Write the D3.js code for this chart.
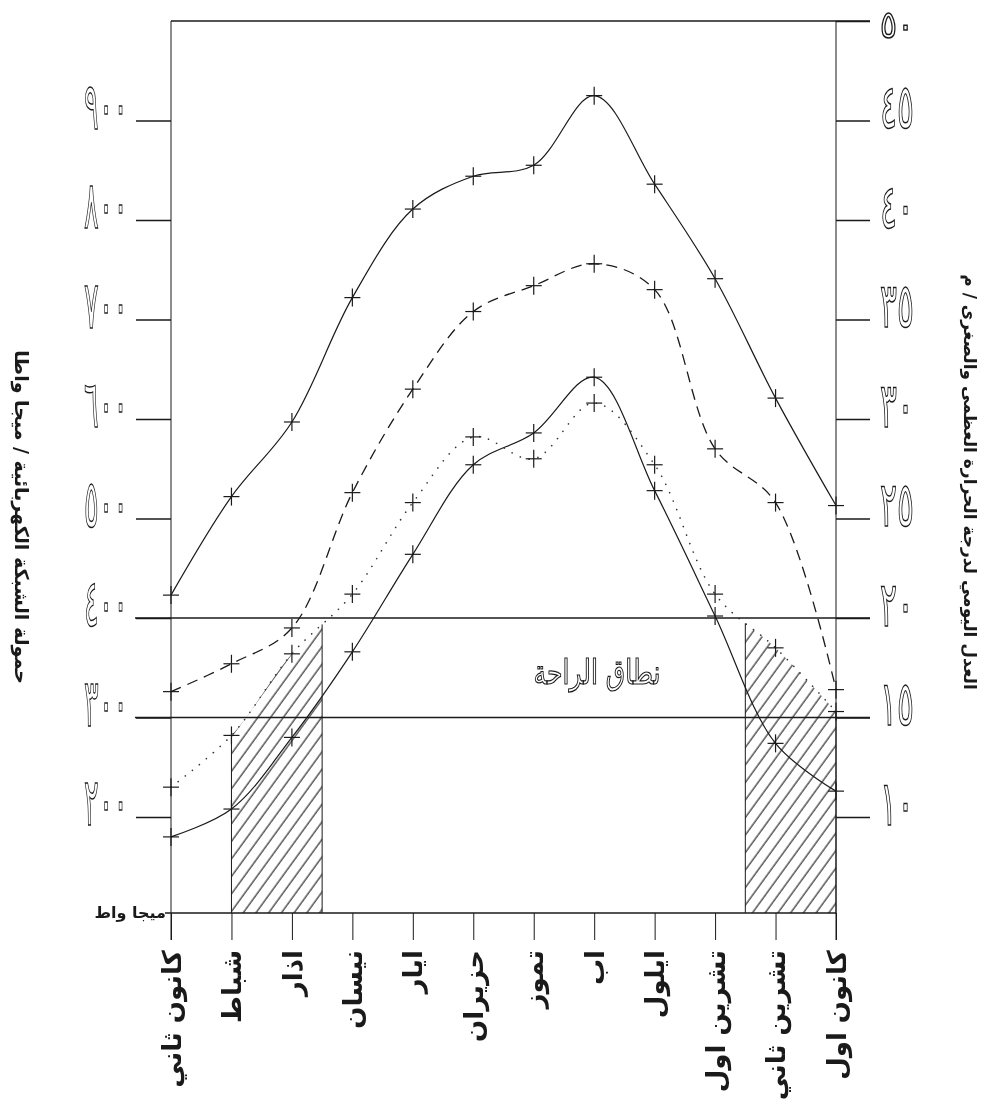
<!DOCTYPE html>
<html><head><meta charset="utf-8">
<script src="https://cdn.jsdelivr.net/npm/d3@7"></script>
<style>
html,body{margin:0;padding:0;background:#fff;}
svg{display:block;will-change:transform;}
text{font-family:"DejaVu Sans",sans-serif;}
</style></head>
<body>
<svg id="chart" width="995" height="1106"></svg>
<script>
// ---- data ----
const months = ["كانون ثاني","شباط","اذار","نيسان","ايار","حزيران","تموز","اب","ايلول","تشرين اول","تشرين ثاني","كانون اول"];
const loadMW   = [423, 522, 597, 722, 811, 844, 855, 925, 836, 741, 621, 513];     // top solid (left axis)
const tempDash = [16.3, 17.7, 19.5, 26.3, 31.5, 35.4, 36.7, 37.8, 36.5, 28.5, 25.8, 16.4];
const tempSolid= [9.0, 10.4, 14.0, 18.3, 23.2, 27.7, 29.3, 32.1, 26.4, 20.1, 13.7, 11.3];
const tempDot  = [11.5, 14.1, 18.2, 21.2, 25.8, 29.1, 28.0, 30.8, 27.7, 21.2, 18.5, 15.3];
const leftTicks  = [200, 300, 400, 500, 600, 700, 800, 900];
const rightTicks = [10, 15, 20, 25, 30, 35, 40, 45, 50];
const comfortBand = [15, 20];
const hatchRanges = [[1, 2.5], [9.5, 11]];
const comfortLabel = "نطاق الراحة";
const leftTitle = "حمولة الشبكة الكهربائية / ميجا واطا";
const rightTitle = "العدل اليومي لدرجة الحرارة العظمى والصغرى / م";
const unitLabel = "ميجا واط";

const toArabic = n => String(n).replace(/[0-9]/g, d => "٠١٢٣٤٥٦٧٨٩"[+d]);

// ---- layout ----
const svg = d3.select("#chart");
const X0 = 171, X1 = 836, YTOP = 21, YBOT = 913;
const x  = d3.scaleLinear().domain([0, 11]).range([X0, X1]);
const yT = d3.scaleLinear().domain([10, 50]).range([817, YTOP]);
const yL = d3.scaleLinear().domain([200, 1000]).range([817, YTOP]);
const ink = "#1a1a1a";

// hatch pattern
const defs = svg.append("defs");
const pat = defs.append("pattern").attr("id","hatch").attr("patternUnits","userSpaceOnUse")
  .attr("width",10.3).attr("height",10).attr("patternTransform","rotate(36)");
pat.append("line").attr("x1",2).attr("y1",-2).attr("x2",2).attr("y2",12)
  .attr("stroke",ink).attr("stroke-width",1.1);
const clip = defs.append("clipPath").attr("id","hclip");
hatchRanges.forEach(r => {
  clip.append("rect").attr("x", x(r[0])).attr("y", yT(comfortBand[1]))
    .attr("width", x(r[1]) - x(r[0])).attr("height", YBOT - yT(comfortBand[1]));
});

const curve = d3.curveCatmullRom.alpha(0.5);
const lineT = d3.line().x((d,i)=>x(i)).y(d=>yT(d)).curve(curve);
const lineL = d3.line().x((d,i)=>x(i)).y(d=>yL(d)).curve(curve);

// hatched area under dotted curve
svg.append("path").datum(tempDot)
  .attr("d", d3.area().x((d,i)=>x(i)).y0(YBOT).y1(d=>yT(d)).curve(curve))
  .attr("fill","url(#hatch)").attr("clip-path","url(#hclip)");

// hidden dotted path for sampling
const samp = svg.append("path").datum(tempDot).attr("d", lineT).attr("fill","none").attr("stroke","none").node();
function yOnPath(node, xv){
  const L = node.getTotalLength(); let lo = 0, hi = L;
  for (let i=0;i<40;i++){ const m=(lo+hi)/2; if (node.getPointAtLength(m).x < xv) lo=m; else hi=m; }
  return node.getPointAtLength((lo+hi)/2).y;
}
hatchRanges.forEach(r => r.forEach(v => {
  const top = Math.max(yT(comfortBand[1]), yOnPath(samp, x(v)));
  svg.append("line").attr("x1",x(v)).attr("x2",x(v)).attr("y1",top).attr("y2",YBOT)
    .attr("stroke",ink).attr("stroke-width",1);
}));

// ---- axes ----
const gL = svg.append("g").attr("transform",`translate(${X0},0)`)
  .call(d3.axisLeft(yL).tickValues(leftTicks).tickSize(35).tickPadding(8).tickFormat(toArabic));
gL.select(".domain").remove();
gL.selectAll(".tick line").attr("stroke",ink).attr("stroke-width",1.4);
gL.selectAll(".tick text").attr("dy","0.12em").attr("font-size",66)
  .attr("fill","#fff").attr("stroke",ink).attr("stroke-width",1.5)
  .attr("textLength",44).attr("lengthAdjust","spacingAndGlyphs");

const gR = svg.append("g").attr("transform",`translate(${X1},0)`)
  .call(d3.axisRight(yT).tickValues(rightTicks).tickSize(34).tickPadding(10).tickFormat(toArabic));
gR.select(".domain").remove();
gR.selectAll(".tick line").attr("stroke",ink).attr("stroke-width",1.4);
gR.selectAll(".tick text").attr("dy","0.12em").attr("font-size",62)
  .attr("fill","#fff").attr("stroke",ink).attr("stroke-width",1.5)
  .attr("textLength",34).attr("lengthAdjust","spacingAndGlyphs");
gR.selectAll(".tick text").filter(d => d === 50).attr("font-size",38).attr("dy","0.44em");

const gB = svg.append("g").attr("transform",`translate(0,${YBOT})`)
  .call(d3.axisBottom(x).tickValues(d3.range(months.length)).tickSize(27).tickFormat(i=>months[i]));
gB.select(".domain").remove();
gB.selectAll(".tick line").attr("stroke",ink).attr("stroke-width",1);
gB.selectAll(".tick text").attr("x",0).attr("y",0).attr("dy","0.35em")
  .attr("transform","translate(0,37) rotate(-90)").attr("text-anchor","end")
  .attr("font-size",26).attr("font-weight","bold").attr("fill",ink);

// frame lines
svg.append("line").attr("x1",X0).attr("x2",870).attr("y1",YTOP).attr("y2",YTOP).attr("stroke",ink).attr("stroke-width",1.6);
svg.append("line").attr("x1",X0).attr("x2",X0).attr("y1",YTOP).attr("y2",940).attr("stroke",ink).attr("stroke-width",1);
svg.append("line").attr("x1",X1).attr("x2",X1).attr("y1",YTOP).attr("y2",940).attr("stroke",ink).attr("stroke-width",1);
svg.append("line").attr("x1",165).attr("x2",X1).attr("y1",YBOT).attr("y2",YBOT).attr("stroke",ink).attr("stroke-width",1.6);
comfortBand.forEach(t => svg.append("line").attr("x1",135).attr("x2",870).attr("y1",yT(t)).attr("y2",yT(t))
  .attr("stroke",ink).attr("stroke-width",1.6));

// ---- series ----
svg.append("path").datum(loadMW).attr("d",lineL).attr("fill","none").attr("stroke",ink).attr("stroke-width",1.2);
svg.append("path").datum(tempDash).attr("d",lineT).attr("fill","none").attr("stroke",ink).attr("stroke-width",1.3).attr("stroke-dasharray","11 7");
svg.append("path").datum(tempSolid).attr("d",lineT).attr("fill","none").attr("stroke",ink).attr("stroke-width",1.2);
svg.append("path").datum(tempDot).attr("d",lineT).attr("fill","none").attr("stroke","#333").attr("stroke-width",1.6)
  .attr("stroke-dasharray","0.1 9").attr("stroke-linecap","round");

const cross = (vals, sc) => {
  const g = svg.append("g").attr("stroke",ink).attr("stroke-width",1.2);
  vals.forEach((v,i) => {
    g.append("line").attr("x1",x(i)-8).attr("x2",x(i)+8).attr("y1",sc(v)).attr("y2",sc(v));
    g.append("line").attr("x1",x(i)).attr("x2",x(i)).attr("y1",sc(v)-9).attr("y2",sc(v)+9);
  });
};
cross(loadMW, yL); cross(tempDash, yT); cross(tempSolid, yT); cross(tempDot, yT);

// ---- texts ----
svg.append("text").attr("x",597).attr("y",684).attr("text-anchor","middle").attr("font-size",34)
  .attr("textLength",127).attr("lengthAdjust","spacingAndGlyphs")
  .attr("fill","#fff").attr("stroke",ink).attr("stroke-width",1.2).text(comfortLabel);
svg.append("text").attr("x",166).attr("y",918).attr("text-anchor","end").attr("font-size",16)
  .attr("font-weight","bold").attr("fill",ink).text(unitLabel);
svg.append("text").attr("transform","translate(22,517) rotate(90)").attr("text-anchor","middle")
  .attr("dy","0.35em").attr("font-size",19).attr("font-weight","bold").attr("fill",ink).text(leftTitle);
svg.append("text").attr("transform","translate(970,482) rotate(90)").attr("text-anchor","middle")
  .attr("dy","0.35em").attr("font-size",17).attr("font-weight","bold").attr("fill",ink).text(rightTitle);
</script>
</body></html>
